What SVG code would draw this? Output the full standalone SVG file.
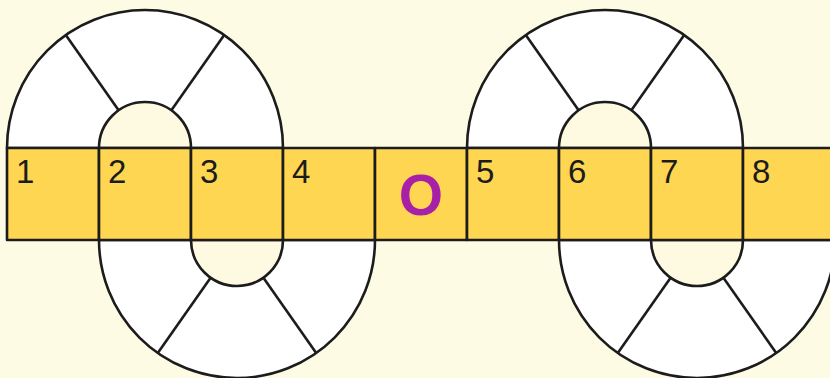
<svg xmlns="http://www.w3.org/2000/svg" xmlns:xlink="http://www.w3.org/1999/xlink" width="830" height="378" viewBox="0 0 830 378">
<style>
.ln{stroke:#1c1c1c;stroke-width:2.6;stroke-linejoin:round}
.outer{fill:#ffffff}
.inner{fill:#fefae2}
.cell{fill:#fed651}
.num{font-family:"Liberation Sans",Arial,sans-serif;font-size:33px;fill:#1c1c1c}
.big{font-family:"Liberation Sans",Arial,sans-serif;font-size:57px;font-weight:bold;fill:#a81fa8;text-anchor:middle}
</style>
<defs>
<g id="ringTop">
<path class="ln outer" d="M-138,0 A138,138 0 0 1 138,0 Z"/>
<path class="ln inner" d="M-46,0 A46,46 0 0 1 46,0 Z"/>
<line class="ln" x1="-26.4" y1="-37.7" x2="-79.2" y2="-113"/>
<line class="ln" x1="26.4" y1="-37.7" x2="79.2" y2="-113"/>
</g>
<g id="ringBot">
<path class="ln outer" d="M-138,0 A138,138 0 0 0 138,0 Z"/>
<path class="ln inner" d="M-46,0 A46,46 0 0 0 46,0 Z"/>
<line class="ln" x1="-26.4" y1="37.7" x2="-79.2" y2="113"/>
<line class="ln" x1="26.4" y1="37.7" x2="79.2" y2="113"/>
</g>
</defs>
<rect width="830" height="378" fill="#fefbe4"/>
<g id="rings">
<g id="ring-top-1"><use xlink:href="#ringTop" href="#ringTop" transform="translate(145,148)"/></g>
<g id="ring-bottom-1"><use xlink:href="#ringBot" href="#ringBot" transform="translate(237,240)"/></g>
<g id="ring-top-2"><use xlink:href="#ringTop" href="#ringTop" transform="translate(605,148)"/></g>
<g id="ring-bottom-2"><use xlink:href="#ringBot" href="#ringBot" transform="translate(697,240)"/></g>
</g>
<g id="strip">
<g id="cell-1"><rect class="ln cell" x="7" y="148" width="92" height="92"/><text class="num" x="16" y="183">1</text></g>
<g id="cell-2"><rect class="ln cell" x="99" y="148" width="92" height="92"/><text class="num" x="108" y="183">2</text></g>
<g id="cell-3"><rect class="ln cell" x="191" y="148" width="92" height="92"/><text class="num" x="200" y="183">3</text></g>
<g id="cell-4"><rect class="ln cell" x="283" y="148" width="92" height="92"/><text class="num" x="292" y="183">4</text></g>
<g id="cell-O"><rect class="ln cell" x="375" y="148" width="92" height="92"/><text class="big" x="421" y="215">O</text></g>
<g id="cell-5"><rect class="ln cell" x="467" y="148" width="92" height="92"/><text class="num" x="476" y="183">5</text></g>
<g id="cell-6"><rect class="ln cell" x="559" y="148" width="92" height="92"/><text class="num" x="568" y="183">6</text></g>
<g id="cell-7"><rect class="ln cell" x="651" y="148" width="92" height="92"/><text class="num" x="660" y="183">7</text></g>
<g id="cell-8"><rect class="ln cell" x="743" y="148" width="92" height="92"/><text class="num" x="752" y="183">8</text></g>
</g>
</svg>
